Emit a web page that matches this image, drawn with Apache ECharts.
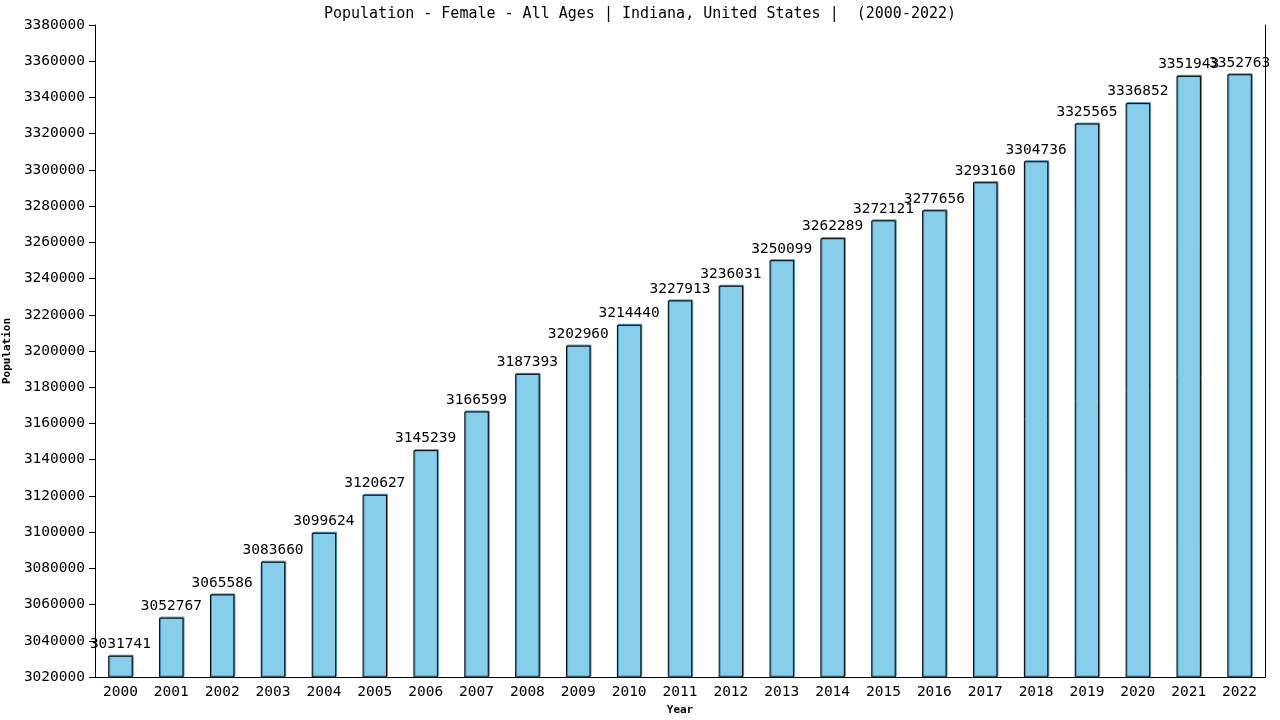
<!DOCTYPE html>
<html lang="en">
<head>
    <meta charset="utf-8">
    <title>Population - Female - All Ages | Indiana</title>
    <script src="https://cdn.jsdelivr.net/npm/echarts@6/dist/echarts.min.js"></script>
    <style>
        html, body { margin: 0; padding: 0; background: #fff; }
        #chart { width: 1280px; height: 720px; }
    </style>
</head>
<body>
<div id="chart"></div>
<script type="text/javascript">
    var years = ['2000', '2001', '2002', '2003', '2004', '2005', '2006', '2007', '2008', '2009', '2010', '2011',
        '2012', '2013', '2014', '2015', '2016', '2017', '2018', '2019', '2020', '2021', '2022'];
    var population = [3031741, 3052767, 3065586, 3083660, 3099624, 3120627, 3145239, 3166599, 3187393, 3202960,
        3214440, 3227913, 3236031, 3250099, 3262289, 3272121, 3277656, 3293160, 3304736, 3325565, 3336852,
        3351943, 3352763];

    var font = 'DejaVu Sans Mono';
    var myChart = echarts.init(document.getElementById('chart'));
    var option = {
        animation: false,
        title: {
            text: 'Population - Female - All Ages | Indiana, United States |  (2000-2022)',
            left: 'center',
            top: 2,
            textStyle: { fontFamily: font, fontSize: 15, fontWeight: 'normal', color: '#000' }
        },
        grid: { left: 95, right: 15, top: 25, bottom: 43, containLabel: false, outerBoundsMode: 'none' },
        xAxis: {
            type: 'category',
            data: years,
            name: 'Year',
            nameLocation: 'middle',
            nameGap: 27,
            nameTextStyle: { fontFamily: font, fontSize: 11, fontWeight: 'bold', color: '#000' },
            axisLine: { lineStyle: { color: '#000', width: 1 } },
            axisTick: { show: false },
            axisLabel: { fontFamily: font, fontSize: 14.5, color: '#000', margin: 8, interval: 0 }
        },
        yAxis: [{
            type: 'value',
            min: 3020000,
            max: 3380000,
            interval: 20000,
            name: 'Population',
            nameLocation: 'middle',
            nameGap: 76,
            nameTextStyle: { fontFamily: font, fontSize: 11, fontWeight: 'bold', color: '#000' },
            axisLine: { show: true, lineStyle: { color: '#000', width: 1 } },
            axisTick: { show: true, length: 6, lineStyle: { color: '#000' } },
            axisLabel: {
                fontFamily: font, fontSize: 14.5, color: '#000', margin: 10,
                formatter: function (v) { return String(v); }
            },
            splitLine: { show: false }
        }, {
            type: 'value',
            min: 3020000,
            max: 3380000,
            interval: 20000,
            position: 'right',
            axisLine: { show: true, lineStyle: { color: '#000', width: 1 } },
            axisTick: { show: false },
            axisLabel: { show: false },
            splitLine: { show: false }
        }],
        series: [{
            type: 'bar',
            data: population,
            barWidth: '48%',
            itemStyle: {
                color: '#87ceeb',
                borderColor: '#000',
                borderWidth: 1,
                shadowColor: '#4a8fb5',
                shadowOffsetX: 1,
                shadowOffsetY: -1
            },
            label: {
                show: true,
                position: 'top',
                distance: 4,
                fontFamily: font,
                fontSize: 14.5,
                color: '#000'
            }
        }]
    };
    myChart.setOption(option);
</script>
</body>
</html>
